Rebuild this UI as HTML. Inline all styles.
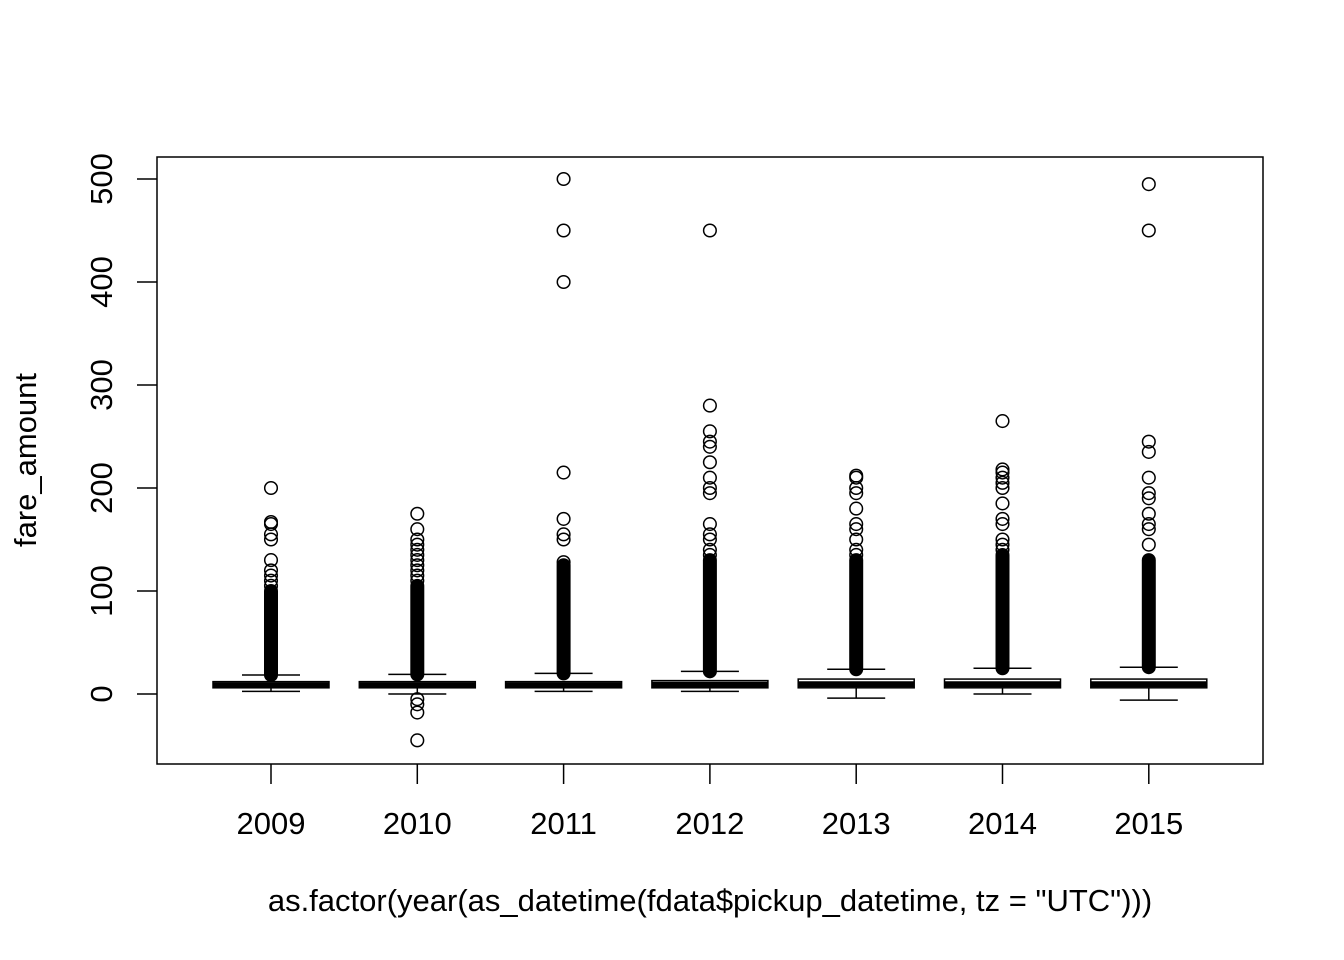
<!DOCTYPE html><html><head><style>body{margin:0;background:#fff}svg{display:block}text{font-family:"Liberation Sans",Arial,sans-serif;fill:#000}</style></head><body>
<svg id="c" width="1344" height="960"></svg>
<script>
const categories=["2009","2010","2011","2012","2013","2014","2015"];
const q1=[6,6,6,6,6,6,6];
const median=[8.5,8.5,8.5,9,9.5,9.5,9.5];
const q3=[12,12,12,13,14.5,14.5,14.5];
const whiskLow=[2.5,0,2.5,2.5,-4,0,-6];
const whiskHigh=[18.5,19,20,22,24,25,26];
const denseTop=[100,105,125,130,130,135,130];
const outliers=[
[105,110,115,120,130,150,155,165,167,200],
[110,115,120,125,130,135,140,145,150,160,175,-5,-10,-18,-45],
[128,150,155,170,215,400,450,500],
[135,140,150,155,165,195,200,210,225,240,245,255,280,450],
[135,140,150,160,165,180,195,200,210,212],
[140,145,150,165,170,185,200,205,210,215,218,265],
[145,160,165,175,190,195,210,235,245,450,495]];
const yTicks=[0,100,200,300,400,500];
const NS="http://www.w3.org/2000/svg",svg=document.getElementById('c');
const y=v=>694-v*1.03, x=i=>271+i*146.3;
function mk(t,a,p){const e=document.createElementNS(NS,t);for(const k in a)e.setAttribute(k,a[k]);(p||svg).appendChild(e);return e;}
let e=mk('rect',{x:157,y:157,width:1106,height:607,fill:'none',stroke:'#000','stroke-width':1.5});

yTicks.forEach(v=>{mk('line',{x1:137,x2:157,y1:y(v),y2:y(v),stroke:'#000','stroke-width':1.5});
 const t=mk('text',{x:112,y:y(v),'font-size':31,'text-anchor':'middle',transform:`rotate(-90 112 ${y(v)})`});t.textContent=v;
 });
categories.forEach((c,i)=>{const cx=x(i);
 mk('line',{x1:cx,x2:cx,y1:764,y2:784,stroke:'#000','stroke-width':1.5});
 const t=mk('text',{x:cx,y:834,'font-size':31,'text-anchor':'middle'});t.textContent=c;
 
 const g=mk('g',{});
 mk('line',{x1:cx,x2:cx,y1:y(denseTop[i]),y2:y(whiskHigh[i]),stroke:'#000','stroke-width':14,'stroke-linecap':'round'},g);
 [whiskLow[i],whiskHigh[i]].forEach(w=>mk('line',{x1:cx-29,x2:cx+29,y1:y(w),y2:y(w),stroke:'#000','stroke-width':1.5},g));
 mk('line',{x1:cx,x2:cx,y1:y(whiskLow[i]),y2:y(q1[i]),stroke:'#000','stroke-width':1.5},g);
 mk('rect',{x:cx-58,y:y(q3[i]),width:116,height:y(q1[i])-y(q3[i]),fill:'#fff',stroke:'#000','stroke-width':1.5},g);
 mk('line',{x1:cx-58,x2:cx+58,y1:y(median[i]),y2:y(median[i]),stroke:'#000','stroke-width':6},g);
 outliers[i].forEach(v=>{const o=mk('circle',{cx:cx,cy:y(v),r:6.3,fill:'none',stroke:'#000','stroke-width':1.5},g);
  });
});
let t=mk('text',{x:710,y:911,'font-size':31,'text-anchor':'middle'});t.textContent='as.factor(year(as_datetime(fdata$pickup_datetime, tz = "UTC")))';

t=mk('text',{x:36,y:460,'font-size':31,'text-anchor':'middle',transform:'rotate(-90 36 460)'});t.textContent='fare_amount';

</script></body></html>
